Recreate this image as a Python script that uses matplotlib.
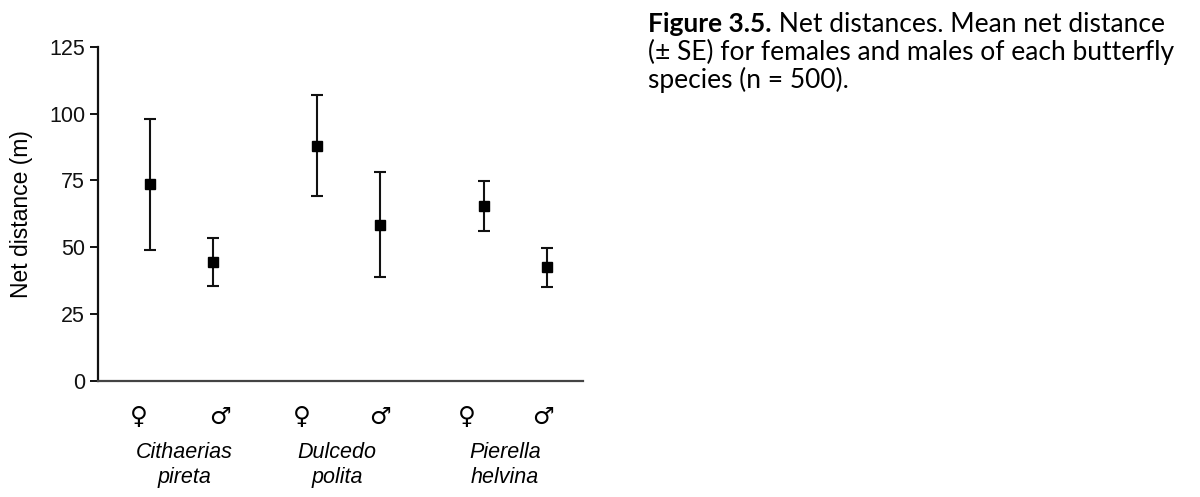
import matplotlib
matplotlib.use("Agg")
import matplotlib.pyplot as plt

species = ["Cithaerias\npireta", "Dulcedo\npolita", "Pierella\nhelvina"]
sexes = ["\u2640", "\u2642"]
mean_female = [73.5, 88.0, 65.5]
se_female = [24.4, 19.0, 9.3]
mean_male = [44.5, 58.5, 42.5]
se_male = [9.1, 19.6, 7.2]
yticks = [0, 25, 50, 75, 100, 125]

caption_bold = "Figure 3.5."
caption_rest = " Net distances. Mean net distance"
caption_lines = ["(\u00b1 SE) for females and males of each butterfly",
                 "species (n = 500)."]

fig = plt.figure(figsize=(12, 4.97), dpi=100)
ax = fig.add_axes([0.0814, 0.2334, 0.4045, 0.6726])

# group layout: two sexes per species, wider gap between species
group_step = 2.65
pos_f = [1 + i * group_step for i in range(len(species))]
pos_m = [p + 1 for p in pos_f]

style = dict(fmt="s", color="black", ecolor="#111111", markersize=7.5,
             capsize=4.3, capthick=1.5, elinewidth=1.5)
ax.errorbar(pos_f, mean_female, yerr=se_female, **style)
ax.errorbar(pos_m, mean_male, yerr=se_male, **style)

ax.set_xlim(0.17, 7.87)
ax.set_ylim(0, 125)
ax.set_yticks(yticks)
ax.set_xticks([])
for s in ("top", "right"):
    ax.spines[s].set_visible(False)
ax.spines["left"].set_linewidth(1.6)
ax.spines["left"].set_color("#111111")
ax.spines["bottom"].set_linewidth(1.6)
ax.spines["bottom"].set_color("#444444")
ax.tick_params(axis="y", direction="out", length=5.5, width=1.4,
               labelsize=15.5, pad=3.5, colors="#111111")
for lab in ax.get_yticklabels():
    lab.set_fontfamily("Liberation Sans")
ax.set_ylabel("Net distance (m)", fontsize=16.5, family="Liberation Sans")
ax.yaxis.set_label_coords(-0.133, 0.5)

# category labels below the axis
sym_x = [0.825, 2.11, 3.40, 4.65, 6.03, 7.24]
name_x = [1.54, 3.97, 6.63]
name_rows = [-0.2303, -0.305]
trans = ax.get_xaxis_transform()
for i, x in enumerate(sym_x):
    ax.text(x, -0.108, sexes[i % 2], transform=trans, ha="center",
            va="center", fontsize=17.5, family="DejaVu Sans")
for x, name in zip(name_x, species):
    for row_y, part in zip(name_rows, name.split("\n")):
        ax.text(x, row_y, part, transform=trans, ha="center",
                va="baseline", fontsize=15.5, style="italic",
                family="Liberation Sans")

# caption to the right of the plot
y0 = 1 - 32 / 497
t = fig.text(648 / 1200, y0, caption_bold, fontsize=19,
             weight="bold", family="Lato", va="baseline", ha="left")
fig.canvas.draw()
bb = t.get_window_extent()
fig.text(bb.x1 / 1200, y0, caption_rest, fontsize=19,
         family="Lato", va="baseline", ha="left")
for i, line in enumerate(caption_lines):
    fig.text(648 / 1200, 1 - (60 + 28 * i) / 497, line, fontsize=19,
             family="Lato", va="baseline", ha="left")

fig.savefig("out.png", dpi=100)
